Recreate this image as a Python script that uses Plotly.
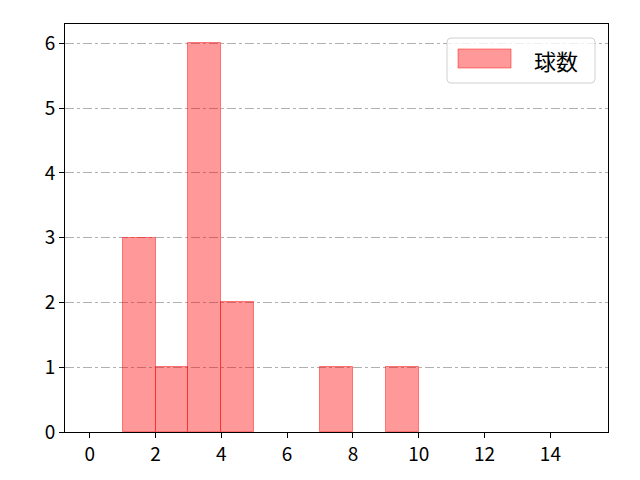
import plotly.graph_objects as go

bin_left = [0, 1, 2, 3, 4, 5, 6, 7, 8, 9, 10, 11, 12, 13, 14]
counts = [0, 3, 1, 6, 2, 0, 0, 1, 0, 1, 0, 0, 0, 0, 0]
series_name = "球数"
x_ticks = [0, 2, 4, 6, 8, 10, 12, 14]
y_ticks = [0, 1, 2, 3, 4, 5, 6]

xs = [b for b, c in zip(bin_left, counts) if c > 0]
ys = [c for c in counts if c > 0]

fill = "rgba(255,0,0,0.4)"
edge = "rgba(255,0,0,0.45)"

fig = go.Figure()
fig.add_trace(go.Bar(
    x=xs, y=ys, width=1, offset=0, name=series_name,
    marker=dict(color=fill, line=dict(color=edge, width=1)),
    showlegend=False,
))

# page body has an 8px margin; figure drawn at (8,8)
W, H = 632, 472
ml, mr, mt, mb = 57, 32, 16, 48
pw, ph = W - ml - mr, H - mt - mb


def px(xp):
    return (xp - 8 - ml) / pw


def py(yp):
    return 1 - (yp - 8 - mt) / ph


# manual legend (matplotlib style)
x0, x1, y0, y1, r = 447, 595, 38, 83, 4
path = (f"M {px(x0+r)},{py(y0)} L {px(x1-r)},{py(y0)} Q {px(x1)},{py(y0)} {px(x1)},{py(y0+r)} "
        f"L {px(x1)},{py(y1-r)} Q {px(x1)},{py(y1)} {px(x1-r)},{py(y1)} "
        f"L {px(x0+r)},{py(y1)} Q {px(x0)},{py(y1)} {px(x0)},{py(y1-r)} "
        f"L {px(x0)},{py(y0+r)} Q {px(x0)},{py(y0)} {px(x0+r)},{py(y0)} Z")
shapes = [
    dict(type="path", xref="paper", yref="paper", path=path,
         fillcolor="rgba(255,255,255,0.8)", line=dict(color="#d0d0d0", width=1), layer="above"),
    dict(type="rect", xref="paper", yref="paper", x0=px(458), x1=px(511), y0=py(68), y1=py(49),
         fillcolor=fill, line=dict(color=edge, width=1), layer="above"),
]

font = "Noto Sans CJK JP, IPAexGothic, sans-serif"
fig.update_layout(
    width=W, height=H,
    margin=dict(l=ml, r=mr, t=mt, b=mb),
    plot_bgcolor="white", paper_bgcolor="white",
    font=dict(family=font, size=19, color="black"),
    bargap=0,
    showlegend=False,
    shapes=shapes,
    annotations=[dict(xref="paper", yref="paper", x=px(532), y=py(60), xanchor="left", yanchor="middle",
                      text=series_name, showarrow=False, font=dict(size=22, family=font, color="black"))],
    xaxis=dict(range=[-0.75, 15.75], tickvals=x_ticks, showgrid=False, zeroline=False,
               showline=True, linecolor="black", linewidth=1, mirror=True,
               ticks="outside", ticklen=5, tickcolor="black"),
    yaxis=dict(range=[0, 6.3], tickvals=y_ticks, showgrid=True, gridcolor="#b0b0b0",
               griddash="dashdot", gridwidth=1, zeroline=False,
               showline=True, linecolor="black", linewidth=1, mirror=True,
               ticks="outside", ticklen=5, tickcolor="black"),
)
fig.write_html("out.html")
